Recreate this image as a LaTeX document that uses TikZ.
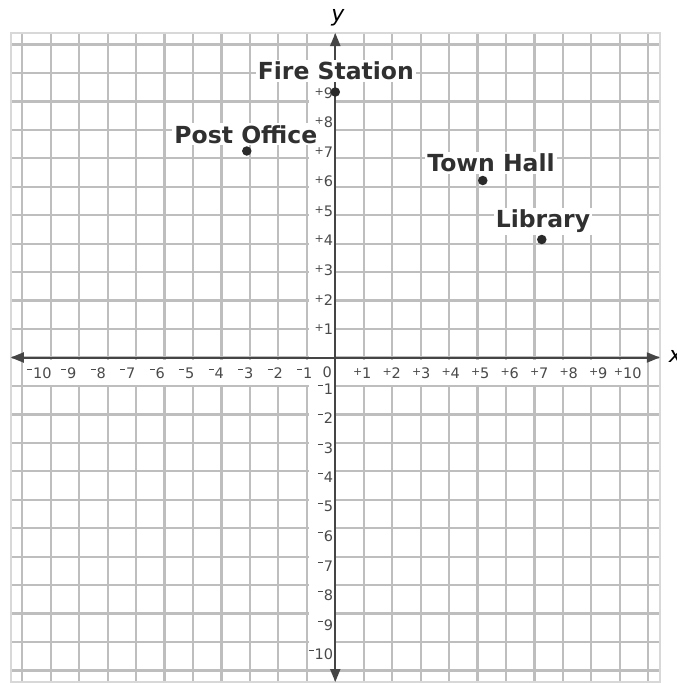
\documentclass[tikz,border=0pt]{standalone}
\usepackage{fontspec}
\setmainfont{DejaVu Sans}
\usetikzlibrary{arrows.meta}
\definecolor{gridc}{HTML}{BEBEBE}
\definecolor{borderc}{HTML}{D8D8D8}
\definecolor{axisc}{HTML}{454545}
\definecolor{tickc}{HTML}{4A4A4A}
\definecolor{labelc}{HTML}{303030}
\definecolor{dotc}{HTML}{2A2A2A}
\newcommand{\tkplus}{\raisebox{0.38ex}{\fontsize{11}{11}\selectfont +}}
\newcommand{\tkminus}{\rule[1.05ex]{0.34em}{0.075em}\hspace{0.07em}}
\tikzset{
  tick/.style={font=\fontsize{14.5}{15}\selectfont, text=tickc, inner sep=0pt},
  lbl/.style={font=\fontsize{23.5}{24}\selectfont\bfseries, text=labelc, fill=white, inner sep=2pt},
  dot/.style={circle, fill=dotc, inner sep=0pt, minimum size=9.5pt},
  axtip/.tip={Triangle[length=13pt,width=10pt]}
}
\begin{document}
\begin{tikzpicture}[x=29.5pt,y=29.5pt]
\useasboundingbox (-11.366,-11.034) rectangle (11.583,12.119);
% grid
\draw[gridc, line width=2.2pt] (-11,-11) grid (11,11);
\draw[borderc, line width=2pt] (-11,-11) rectangle (11,11);
% white bands behind tick labels
\fill[white] (-10.5,-0.08) rectangle (10.45,-0.92);
\fill[white] (-0.88,10.5) rectangle (-0.05,-10.55);
% axes
\coordinate (xl) at (-11,0);
\coordinate (xr) at (11,0);
\coordinate (yb) at (0,-11);
\coordinate (yt) at (0,11);
\draw[axisc, line width=2pt, axtip-axtip] (xl) -- (xr);
\draw[axisc, line width=2pt, axtip-axtip] (yb) -- (yt);
\node[font=\fontsize{22}{22}\selectfont\itshape, text=black, anchor=west, inner sep=0pt] (xlab) at (11.3,0.03) {x};
\node[font=\fontsize{22}{22}\selectfont\itshape, text=black, inner sep=0pt] (ylab) at (0.09,11.5) {y};
% tick labels
\foreach \i in {1,...,10} {
  \node[tick] (txp\i) at (\i+0.07,-0.53) {\llap{\tkplus}\i};
  \node[tick] (txm\i) at (-\i+0.07,-0.53) {\llap{\tkminus}\i};
  \node[tick, anchor=east] (tym\i) at (-0.07,-\i-0.06) {\tkminus\i};
}
\foreach \i in {1,...,9} {
  \node[tick, anchor=east] (typ\i) at (-0.07,\i-0.04) {\tkplus\i};
}
\node[tick] (orig) at (-0.27,-0.51) {0};
% labels
\node[lbl, anchor=base] (fsl) at (0.02,9.41) {Fire Station};
\node[lbl, anchor=base] (pol) at (-3.03,7.27) {Post Office};
\node[lbl, anchor=base] (thl) at (5.28,6.29) {Town Hall};
\node[lbl, anchor=base] (lil) at (7.04,4.39) {Library};
% points
\node[dot] (fs) at (0,9) {};
\node[dot] (po) at (-3,7) {};
\node[dot] (th) at (5,6) {};
\node[dot] (li) at (7,4) {};
\end{tikzpicture}
\end{document}
